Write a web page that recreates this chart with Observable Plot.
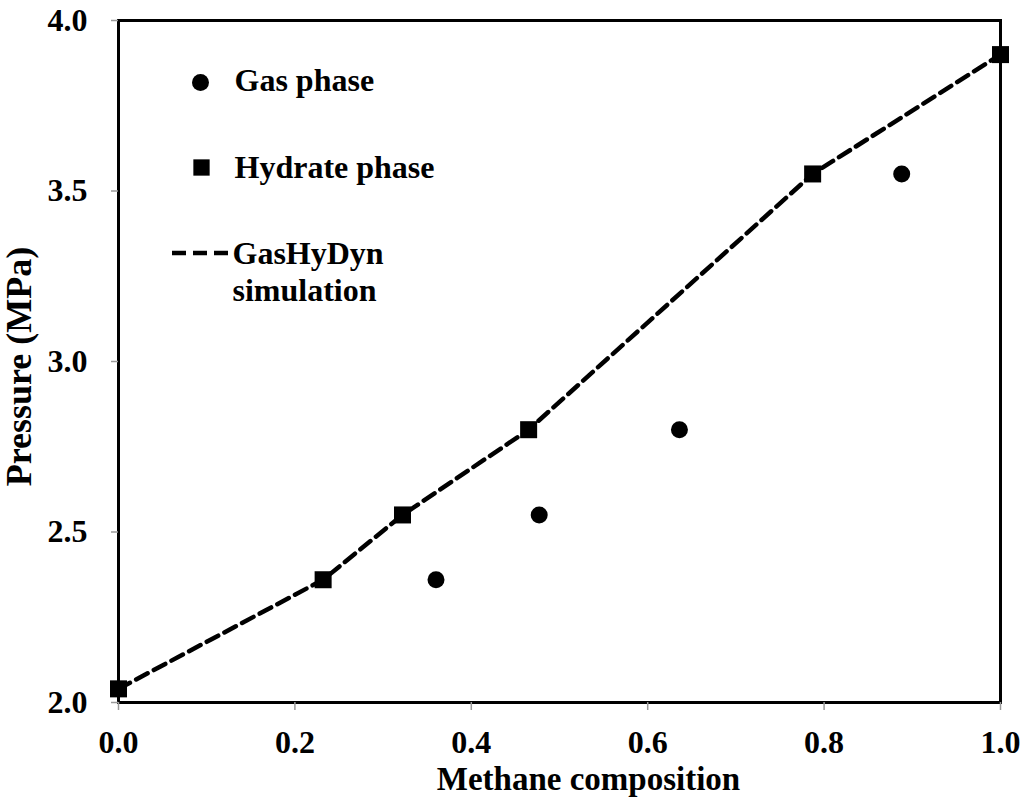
<!DOCTYPE html>
<html>
<head>
<meta charset="utf-8">
<script src="https://cdn.jsdelivr.net/npm/d3@7"></script>
<script src="https://cdn.jsdelivr.net/npm/@observablehq/plot@0.6"></script>
<style>
  html, body { margin: 0; padding: 0; background: #fff; }
</style>
</head>
<body>
<div id="chart"></div>
<script>
// Methane mole fraction vs. equilibrium pressure (MPa)
const gasComposition = [0.360, 0.477, 0.636, 0.888];
const gasPressure    = [2.36, 2.55, 2.80, 3.55];

const hydrateComposition = [0.0, 0.232, 0.322, 0.465, 0.787, 1.0];
const hydratePressure    = [2.04, 2.36, 2.55, 2.80, 3.55, 3.90];

// GasHyDyn simulated curve
const simComposition = [0.0, 0.232, 0.322, 0.465, 0.787, 1.0];
const simPressure    = [2.04, 2.36, 2.55, 2.80, 3.55, 3.90];

const xTicks = [0, 0.2, 0.4, 0.6, 0.8, 1.0];
const yTicks = [2.0, 2.5, 3.0, 3.5, 4.0];

const legendLabels = ["Gas phase", "Hydrate phase", "GasHyDyn", "simulation"];
const xLabel = "Methane composition";
const yLabel = "Pressure (MPa)";

const gas = gasComposition.map((x, i) => ({x, y: gasPressure[i]}));
const hydrate = hydrateComposition.map((x, i) => ({x, y: hydratePressure[i]}));
const sim = simComposition.map((x, i) => ({x, y: simPressure[i]}));

const marginLeft = 118, marginTop = 20, marginRight = 25, marginBottom = 97;
const fontFamily = "'Liberation Serif', 'Times New Roman', serif";

const legendText = (label, dx, dy) => Plot.text([label], {
  frameAnchor: "top-left", lineAnchor: "middle", textAnchor: "start",
  dx, dy, text: d => d, fontSize: 32, fontWeight: "bold", fill: "black"
});

const chart = Plot.plot({
  width: 1025,
  height: 799,
  marginLeft, marginTop, marginRight, marginBottom,
  style: {fontFamily, fontSize: "32px", fontWeight: "bold", color: "black", background: "white", overflow: "visible"},
  x: {domain: [0, 1]},
  y: {domain: [2, 4]},
  marks: [
    Plot.line(sim, {x: "x", y: "y", stroke: "black", strokeWidth: 4.5, strokeDasharray: "13,7"}),
    Plot.dot(gas, {x: "x", y: "y", r: 8.5, fill: "black", stroke: "none"}),
    Plot.dot(hydrate, {x: "x", y: "y", symbol: "square", r: 9.6, fill: "black", stroke: "none"}),
    Plot.frame({stroke: "black", strokeWidth: 3}),
    Plot.axisX({ticks: xTicks, tickFormat: d3.format(".1f"), tickSize: 8, tickPadding: 20,
      stroke: "#999", fill: "black", strokeWidth: 1.5, label: null, fontSize: 32, fontWeight: "bold"}),
    Plot.axisY({ticks: yTicks, tickFormat: d3.format(".1f"), tickSize: 7, tickPadding: 24,
      stroke: "#999", fill: "black", strokeWidth: 1.5, label: null, fontSize: 32, fontWeight: "bold"}),
    Plot.text([xLabel], {frameAnchor: "bottom", lineAnchor: "middle", textAnchor: "middle", dx: 29, dy: 76.5, text: d => d,
      fontSize: 33, fontWeight: "bold", fill: "black"}),
    Plot.text([yLabel], {frameAnchor: "left", lineAnchor: "middle", textAnchor: "middle", dx: -99, dy: 5, rotate: -90, text: d => d,
      fontSize: 36, fontWeight: "bold", fill: "black"}),
    // legend
    Plot.dot([0], {frameAnchor: "top-left", dx: 82, dy: 62, r: 8.5, fill: "black", stroke: "none"}),
    Plot.dot([0], {frameAnchor: "top-left", dx: 83, dy: 147, r: 9.2, symbol: "square", fill: "black", stroke: "none"}),
    legendText(legendLabels[0], 116, 60.5),
    legendText(legendLabels[1], 116, 146.8),
    legendText(legendLabels[2], 114, 232.8),
    legendText(legendLabels[3], 114, 270)
  ]
});

// dashed sample line for the simulation legend entry
d3.select(chart).append("line")
  .attr("x1", marginLeft + 54).attr("x2", marginLeft + 110)
  .attr("y1", marginTop + 233).attr("y2", marginTop + 233)
  .attr("stroke", "black").attr("stroke-width", 4.5)
  .attr("stroke-dasharray", "14,7");

document.getElementById("chart").appendChild(chart);
</script>
</body>
</html>
